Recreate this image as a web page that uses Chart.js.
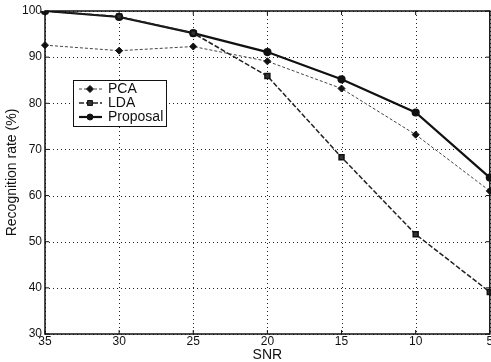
<!DOCTYPE html>
<html><head><meta charset="utf-8">
<script src="https://cdn.jsdelivr.net/npm/chart.js@4/dist/chart.umd.min.js"></script>
<style>html,body{margin:0;padding:0;background:#fff;overflow:hidden}#wrap{width:496px;height:362px}</style>
</head><body><div id="wrap"><canvas id="c" width="496" height="362"></canvas></div>
<script>
const snrLabels = ['35','30','25','20','15','10','5'];
const pcaValues = [92.6, 91.4, 92.3, 89.1, 83.2, 73.2, 61.0];
const ldaValues = [100.0, 98.8, 95.2, 85.9, 68.3, 51.6, 39.1];
const proposalValues = [100.0, 98.7, 95.2, 91.1, 85.2, 78.0, 63.9];
const yTicks = [30, 40, 50, 60, 70, 80, 90, 100];

const FONT = 'Liberation Sans, Arial, sans-serif';

const frame = {
  id: 'frame',
  beforeDatasetsDraw(chart) {
    const a = chart.chartArea, ctx = chart.ctx;
    const xs = chart.scales.x, ys = chart.scales.y;
    ctx.save();
    ctx.strokeStyle = '#222'; ctx.lineWidth = 1; ctx.setLineDash([1, 3]);
    snrLabels.forEach((l, i) => {
      const x = Math.round(xs.getPixelForValue(i)) + 0.5;
      ctx.beginPath(); ctx.moveTo(x, a.top); ctx.lineTo(x, a.bottom); ctx.stroke();
    });
    yTicks.forEach(v => {
      const y = Math.round(ys.getPixelForValue(v)) + 0.5;
      ctx.beginPath(); ctx.moveTo(a.left, y); ctx.lineTo(a.right, y); ctx.stroke();
    });
    ctx.restore();
  },
  afterDatasetsDraw(chart) {
    const a = chart.chartArea, ctx = chart.ctx;
    ctx.save();
    ctx.strokeStyle = '#111'; ctx.lineWidth = 1.5;
    ctx.strokeRect(a.left, a.top, a.right - a.left, a.bottom - a.top);
    ctx.lineWidth = 1;
    const xs = chart.scales.x, ys = chart.scales.y;
    snrLabels.forEach((l, i) => {
      const x = xs.getPixelForValue(i);
      ctx.beginPath(); ctx.moveTo(x, a.bottom); ctx.lineTo(x, a.bottom - 4);
      ctx.moveTo(x, a.top); ctx.lineTo(x, a.top + 4); ctx.stroke();
    });
    yTicks.forEach(v => {
      const y = ys.getPixelForValue(v);
      ctx.beginPath(); ctx.moveTo(a.left, y); ctx.lineTo(a.left + 4, y);
      ctx.moveTo(a.right, y); ctx.lineTo(a.right - 4, y); ctx.stroke();
    });
    // legend
    const lx = 73, ly = 80, lw = 93, lh = 46;
    ctx.fillStyle = '#fff'; ctx.fillRect(lx, ly, lw, lh);
    ctx.strokeStyle = '#111'; ctx.lineWidth = 1; ctx.strokeRect(lx + 0.5, ly + 0.5, lw, lh);
    chart.data.datasets.forEach((ds, i) => {
      const y = ly + 9 + i * 14;
      ctx.save();
      ctx.strokeStyle = ds.borderColor; ctx.lineWidth = ds.borderWidth;
      ctx.setLineDash(ds.borderDash || []);
      ctx.beginPath(); ctx.moveTo(lx + 6, y); ctx.lineTo(lx + 29, y); ctx.stroke();
      ctx.restore();
      ctx.fillStyle = ds.backgroundColor; ctx.strokeStyle = ds.pointBorderColor; ctx.lineWidth = 1;
      Chart.helpers.drawPoint(ctx, {pointStyle: ds.pointStyle, radius: ds.pointRadius, borderWidth: 1}, lx + 17, y);
      ctx.fillStyle = '#111'; ctx.font = '14px ' + FONT; ctx.textBaseline = 'middle';
      ctx.fillText(ds.label, lx + 35, y + 0.5);
    });
    ctx.restore();
  }
};

new Chart(document.getElementById('c'), {
  type: 'line',
  data: {
    labels: snrLabels,
    datasets: [
      {label: 'PCA', data: pcaValues, borderColor: '#444', backgroundColor: '#111', borderWidth: 1,
       borderDash: [3, 2], pointStyle: 'rectRot', pointRadius: 3.5, pointBorderColor: '#111'},
      {label: 'LDA', data: ldaValues, borderColor: '#222', backgroundColor: '#333', borderWidth: 1.5,
       borderDash: [5, 2], pointStyle: 'rect', pointRadius: 3.5, pointBorderColor: '#111'},
      {label: 'Proposal', data: proposalValues, borderColor: '#111', backgroundColor: '#111', borderWidth: 2.2,
       pointStyle: 'circle', pointRadius: 3, pointBorderColor: '#111'}
    ]
  },
  options: {
    responsive: false, animation: false, devicePixelRatio: 1,
    layout: {padding: {left: 0, top: 11, right: 0, bottom: 0}},
    plugins: {legend: {display: false}, tooltip: {enabled: false}},
    elements: {line: {tension: 0}},
    scales: {
      x: {
        type: 'category', offset: false,
        grid: {display: false, drawTicks: false, tickLength: 0},
        border: {display: false},
        ticks: {color: '#111', font: {family: FONT, size: 12, lineHeight: 1}, padding: 2, maxRotation: 0, autoSkip: false},
        title: {display: true, text: 'SNR', color: '#111', font: {family: FONT, size: 14, lineHeight: 1}, padding: {top: 0, bottom: 0}},
        afterFit(s) { s.height = 28; s.paddingLeft = 0; s.paddingRight = 0; }
      },
      y: {
        min: 30, max: 100,
        grid: {display: false, drawTicks: false, tickLength: 0},
        border: {display: false},
        afterBuildTicks(s) { s.ticks = yTicks.map(v => ({value: v})); },
        ticks: {color: '#111', font: {family: FONT, size: 12}, padding: 3},
        title: {display: true, text: 'Recognition rate (%)', color: '#111', font: {family: FONT, size: 14, lineHeight: 1}, padding: {top: 5, bottom: 0}},
        afterFit(s) { s.width = 45; s.paddingTop = 0; s.paddingBottom = 0; }
      }
    }
  },
  plugins: [frame]
});
</script></body></html>
